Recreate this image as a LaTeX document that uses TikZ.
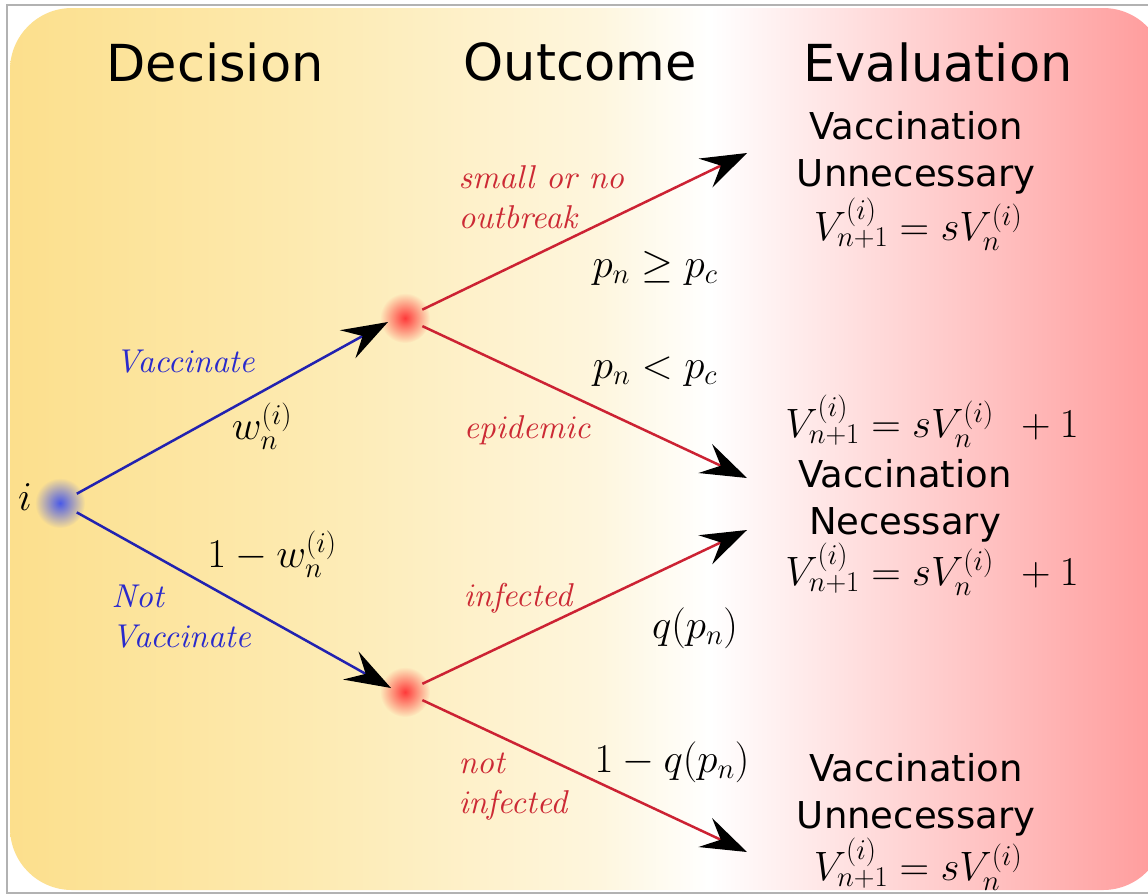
\documentclass[tikz,border=0pt]{standalone}
\usepackage{fix-cm}
\usepackage{fontspec}
\setsansfont{DejaVu Sans}
\usetikzlibrary{arrows.meta,fadings}
\definecolor{bgA}{HTML}{FCDF8C}
\definecolor{bgB}{HTML}{FDEAB0}
\definecolor{bgC}{HTML}{FEF6DE}
\definecolor{bgD}{HTML}{FFFFFF}
\definecolor{bgE}{HTML}{FF9A9A}
\definecolor{lineblue}{HTML}{2222B0}
\definecolor{textblue}{HTML}{2A2ACC}
\definecolor{linered}{HTML}{CC2233}
\definecolor{textred}{HTML}{CC2A35}
\definecolor{dotblue}{HTML}{4A5AE8}
\definecolor{dotred}{HTML}{FF3A3A}
\tikzfading[name=fuzzydot, inner color=transparent!0, outer color=transparent!100]
\font\cmtiten=cmti10 at 33pt
\begin{document}
\begin{tikzpicture}[x=1pt,y=-1pt,
  heading/.style={font=\sffamily\fontsize{51}{60}\selectfont},
  evtext/.style={font=\sffamily\fontsize{37}{47}\selectfont, align=center},
  lab/.style={font=\fontsize{33}{40}\selectfont\cmtiten},
  mlab/.style={font=\fontsize{41}{48}\selectfont},
  dotnode/.style={circle, minimum size=38pt, inner sep=0pt},
  tip/.style={-{Stealth[length=46pt,width=32pt,inset=17pt,color=black]}},
  blueline/.style={tip, draw=lineblue, line width=2.5pt},
  redline/.style={tip, draw=linered, line width=2.5pt}]
\useasboundingbox (0,0) rectangle (1148,895);
\clip (0,0) rectangle (1148,895);
\fill[white] (0,0) rectangle (1148,895);
\begin{scope}
  \clip[rounded corners=62pt] (10,8) rectangle (1165,890);
  \shade[left color=bgA, right color=bgB] (9,8) rectangle (301,890);
  \shade[left color=bgB, right color=bgC] (300,8) rectangle (601,890);
  \shade[left color=bgC, right color=bgD] (600,8) rectangle (711,890);
  \shade[left color=bgD, right color=bgE] (710,8) rectangle (1166,890);
\end{scope}
\draw[gray!60, line width=1.5pt] (7,5) rectangle (1175,893);

% headings
\node[heading] (hd) at (215,62) {Decision};
\node[heading] (ho) at (580,62) {Outcome};
\node[heading] (he) at (938,62) {Evaluation};

% dots
\node[dotnode] (i) at (60,503) {};
\node[dotnode] (u) at (405,318) {};
\node[dotnode] (l) at (405,692) {};
\fill[dotblue, path fading=fuzzydot] (i.center) circle (25);
\fill[dotred, path fading=fuzzydot] (u.center) circle (25);
\fill[dotred, path fading=fuzzydot] (l.center) circle (25);
\node[mlab] (ilab) at (25,497) {$i$};

% tip coordinates
\coordinate (vu) at (388,322);
\coordinate (vl) at (391,688);
\coordinate (t1) at (747,153);
\coordinate (t2) at (747,478);
\coordinate (t3) at (747,530);
\coordinate (t4) at (747,852);

% connectors
\draw[blueline] (i) -- (vu);
\draw[blueline] (i) -- (vl);
\draw[redline] (u) -- (t1);
\draw[redline] (u) -- (t2);
\draw[redline] (l) -- (t3);
\draw[redline] (l) -- (t4);

% decision labels
\node[lab, text=textblue] (vac) at (185,361) {Vaccinate};
\node[mlab] (w) at (262,426) {$w_n^{(i)}$};
\node[mlab] (w1) at (272,554) {$1-w_n^{(i)}$};
\node[lab, text=textblue, align=left, anchor=west] (nvac) at (108,616) {Not\\Vaccinate};

% outcome labels
\node[lab, text=textred, align=left, anchor=west] (sm) at (455,197) {small or no\\outbreak};
\node[mlab] (pge) at (655,268) {$p_n \geq p_c$};
\node[mlab] (plt) at (655,372) {$p_n < p_c$};
\node[lab, text=textred] (epi) at (527,430) {epidemic};
\node[lab, text=textred] (inf) at (518,598) {infected};
\node[mlab] (q) at (695,628) {$q(p_n)$};
\node[lab, text=textred, align=left, anchor=west] (ninf) at (455,787) {not\\infected};
\node[mlab] (q1) at (672,762) {$1-q(p_n)$};

% evaluation
\node[evtext] (e1) at (916,153) {Vaccination\\Unnecessary};
\node[mlab] (f1) at (918,224) {$V_{n+1}^{(i)} = sV_n^{(i)}$};
\node[mlab] (f2) at (932,421) {$V_{n+1}^{(i)} = sV_n^{(i)}\mkern8mu + 1$};
\node[evtext] (e2) at (905,501) {Vaccination\\Necessary};
\node[mlab] (f3) at (932,569) {$V_{n+1}^{(i)} = sV_n^{(i)}\mkern8mu + 1$};
\node[evtext] (e3) at (916,795) {Vaccination\\Unnecessary};
\node[mlab] (f4) at (918,864) {$V_{n+1}^{(i)} = sV_n^{(i)}$};
\end{tikzpicture}
\end{document}
